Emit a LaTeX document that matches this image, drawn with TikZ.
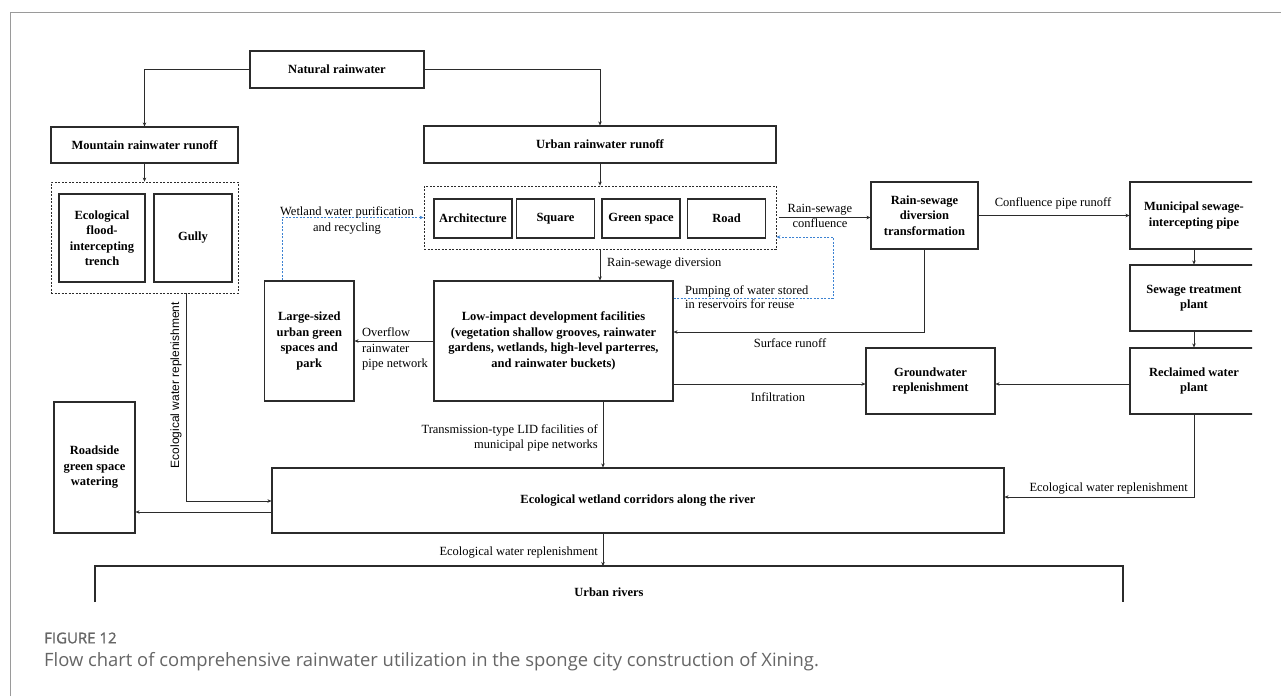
\documentclass[tikz,border=0pt]{standalone}
\usepackage{fontspec}
\setmainfont{Liberation Serif}
\newfontfamily\labsans{Liberation Sans}
\newfontfamily\capsans{Open Sans}
\newfontfamily\capsemi[FakeBold=1.2]{Open Sans}
\usetikzlibrary{arrows.meta,calc}
\definecolor{ink}{HTML}{2B2B2B}
\definecolor{pumpblue}{HTML}{3C82D2}
\definecolor{capgray}{HTML}{666666}
\definecolor{framegray}{HTML}{9A9A9A}
\begin{document}
\begin{tikzpicture}[x=1pt,y=-1pt,
  box/.style={draw=ink,line width=1.1pt,inner sep=0pt,align=center,text=black,
    font=\fontsize{12.5}{15.5}\selectfont\bfseries},
  groupbox/.style={draw=ink,line width=0.8pt,dashed,dash pattern=on 2pt off 1.5pt,inner sep=0pt},
  lab/.style={inner sep=0pt,text=black,font=\fontsize{12.5}{15}\selectfont},
  arr/.style={draw=ink,line width=1pt,-{Stealth[length=4pt,width=3.5pt]}},
  link/.style={draw=ink,line width=1.1pt},
  bluearr/.style={draw=pumpblue,line width=0.9pt,dash pattern=on 2pt off 1.5pt,
    -{Stealth[length=4pt,width=3.5pt]}}]
\useasboundingbox (0,0) rectangle (1281,696);
\fill[white] (0,0) rectangle (1281,696);

% page frame
\draw[framegray,line width=1pt] (10,696) -- (10,12) -- (1281,12);

% sources
\node[box,minimum width=174,minimum height=37] (nat) at (337,69.5) {Natural rainwater};
\node[box,minimum width=187,minimum height=36] (mtn) at (144.5,145) {Mountain rainwater runoff};
\node[box,minimum width=352,minimum height=37] (urb) at (600,144.5) {Urban rainwater runoff};

% mountain catchment group
\node[groupbox,minimum width=187,minimum height=111] (grpL) at (144.5,237.5) {};
\node[box,minimum width=86,minimum height=88] (eco) at (102,238) {Ecological\\flood-\\intercepting\\trench};
\node[box,minimum width=78,minimum height=88] (gully) at (193,238) {Gully};

% urban surfaces group
\node[groupbox,minimum width=352,minimum height=63] (grpU) at (600,217.5) {};
\node[box,minimum width=78,minimum height=39] (arch) at (473,218.5) {Architecture};
\node[box,minimum width=78,minimum height=39] (sq) at (555.5,218.5) {Square};
\node[box,minimum width=78,minimum height=39] (green) at (641,218.5) {Green space};
\node[box,minimum width=78,minimum height=39] (road) at (726.5,218.5) {Road};

% treatment chain
\node[box,minimum width=107,minimum height=67] (rsd) at (924.5,215.5) {Rain-sewage\\diversion\\transformation};
\begin{scope}
  \clip (0,0) rectangle (1252,696);
  \node[box,minimum width=128,minimum height=67] (msp) at (1194,215.5) {Municipal sewage-\\intercepting pipe};
  \node[box,minimum width=128,minimum height=66] (stp) at (1194,298) {Sewage treatment\\plant};
  \node[box,minimum width=128,minimum height=66] (rwp) at (1194,381) {Reclaimed water\\plant};
\end{scope}
\node[box,minimum width=129,minimum height=66] (gw) at (930.5,381) {Groundwater\\replenishment};

% facilities
\node[box,minimum width=239,minimum height=120] (lid) at (553.5,341)
  {Low-impact development facilities\\(vegetation shallow grooves, rainwater\\gardens, wetlands, high-level parterres,\\and rainwater buckets)};
\node[box,minimum width=89.5,minimum height=120] (park) at (309.25,341) {Large-sized\\urban green\\spaces and\\park};
\node[box,minimum width=81,minimum height=131] (rside) at (94.5,467.5) {Roadside\\green space\\watering};
\node[box,minimum width=732,minimum height=65] (wet) at (638,500.5) {Ecological wetland corridors along the river};

% urban rivers, open at the bottom
\draw[link] (95,602) -- (95,566) -- (1123,566) -- (1123,602);
\coordinate (riv) at (603,566);
\node[box,draw=none] (rivtxt) at (609,592) {Urban rivers};

% connectors
\draw[arr] (nat.west) -| (mtn.north);
\draw[arr] (nat.east) -| (urb.north);
\draw[arr] (mtn.south) -- (grpL.north -| mtn.south);
\draw[arr] (urb.south) -- (grpU.north);
\draw[arr] (grpU.south) -- (grpU.south |- lid.north);
\node[lab,anchor=west] (ldiv) at (607,264) {Rain-sewage diversion};

\draw[arr] (lid.west) -- (park.east);
\node[lab,anchor=west,align=left,font=\fontsize{12.5}{15.5}\selectfont] (lover) at (362,349) {Overflow\\rainwater\\pipe network};

\draw[bluearr] (park.north west) ++(18,0) coordinate (wstart) |- (grpU.west);
\node[lab,align=center,font=\fontsize{12.5}{16}\selectfont] (lwet) at (347,220) {Wetland water purification\\and recycling};

\coordinate (pump1) at (833,298);
\coordinate (pump2) at (833,237);
\draw[bluearr] (lid.east |- pump1) -- (pump1) -- (pump2) -- (grpU.east |- pump2);
\node[lab,anchor=west,align=left,font=\fontsize{12.5}{14.5}\selectfont] (lpump) at (685,297) {Pumping of water stored\\in reservoirs for reuse};

\draw[arr,shorten <=3pt] (grpU.east) -- (grpU.east -| rsd.west);
\node[lab,align=center,font=\fontsize{12.5}{15}\selectfont] (lconf) at (820,216) {Rain-sewage\\confluence};

\draw[arr] (rsd.east) -- (msp.west);
\node[lab] (lcpr) at (1053,203) {Confluence pipe runoff};

\coordinate (surf) at (0,332);
\draw[arr] (rsd.south) |- (lid.east |- surf);
\node[lab] (lsurf) at (790,343) {Surface runoff};

\draw[arr] (msp.south) -- (stp.north);
\draw[arr] (stp.south) -- (rwp.north);
\coordinate (gwy) at (0,384);
\draw[arr] (rwp.west |- gwy) -- (gw.east |- gwy);
\draw[arr] (lid.east |- gwy) -- (gw.west |- gwy);
\node[lab] (linf) at (778,397) {Infiltration};

\coordinate (lidx) at (603,0);
\draw[arr] (lid.south -| lidx) -- (wet.north -| lidx);
\node[lab,anchor=east,align=right,font=\fontsize{12.5}{15.5}\selectfont] (ltrans) at (598,438) {Transmission-type LID facilities of\\municipal pipe networks};
\draw[arr] (wet.south -| lidx) -- (riv);
\node[lab,anchor=east] (lriv) at (598,553) {Ecological water replenishment};

\coordinate (ewr) at (0,497);
\draw[arr] (rwp.south) |- (wet.east |- ewr);
\node[lab,anchor=east] (lrwp) at (1188,489) {Ecological water replenishment};

\coordinate (mtnx) at (186,0);
\coordinate (mtny) at (0,501);
\draw[arr] (grpL.south -| mtnx) |- (wet.west |- mtny);
\node[lab,rotate=90,font=\labsans\fontsize{12}{14}\selectfont] (lmtn) at (176,385) {Ecological water replenishment};
\coordinate (rsy) at (0,512);
\draw[arr] (wet.west |- rsy) -- (rside.east |- rsy);

% caption
\node[anchor=west,inner sep=0pt,text=capgray,font=\capsemi\fontsize{15}{17}\selectfont] (fig) at (44,638) {FIGURE 12};
\node[anchor=west,inner sep=0pt,text=capgray,font=\capsans\fontsize{18.4}{21}\selectfont] (cap) at (44,662)
  {Flow chart of comprehensive rainwater utilization in the sponge city construction of Xining.};
\end{tikzpicture}
\end{document}
